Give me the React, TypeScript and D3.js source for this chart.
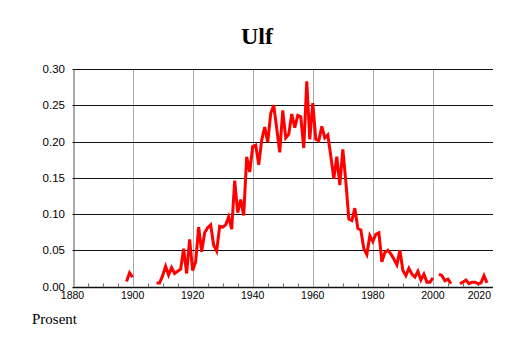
import React, { useEffect, useRef } from 'react';
import * as d3 from 'd3';

// share of population named Ulf, per year (null = no data)
const years = d3.range(1898, 2019);
const values: (number | null)[] = [
    0.007, 0.019, 0.013,                                            // 1898-1900
    null, null, null, null, null, null, null,                       // 1901-1907
    0.005, 0.005, 0.015, 0.028, 0.016, 0.026, 0.018, 0.021, 0.024, 0.052, // 1908-1917
    0.018, 0.065, 0.022, 0.034, 0.082, 0.048, 0.074, 0.081, 0.085, 0.057, // 1918-1927
    0.049, 0.083, 0.082, 0.085, 0.096, 0.079, 0.146, 0.102, 0.120, 0.098, // 1928-1937
    0.179, 0.158, 0.193, 0.195, 0.168, 0.202, 0.220, 0.199, 0.239, 0.250, // 1938-1947
    0.218, 0.185, 0.243, 0.205, 0.210, 0.238, 0.219, 0.236, 0.234, 0.191, // 1948-1957
    0.283, 0.203, 0.253, 0.203, 0.201, 0.221, 0.205, 0.209, 0.180, 0.149, // 1958-1967
    0.179, 0.140, 0.189, 0.145, 0.093, 0.091, 0.108, 0.080, 0.078, 0.052, // 1968-1977
    0.044, 0.070, 0.062, 0.072, 0.074, 0.034, 0.047, 0.050, 0.045, 0.038, // 1978-1987
    0.030, 0.050, 0.022, 0.015, 0.025, 0.017, 0.013, 0.021, 0.009, 0.017, // 1988-1997
    0.006, 0.006, 0.012,                                            // 1998-2000
    null,                                                           // 2001
    0.017, 0.015, 0.008, 0.010, 0.004,                              // 2002-2006
    null, null,                                                     // 2007-2008
    0.004, 0.006, 0.009, 0.004, 0.006, 0.006, 0.004, 0.005, 0.015, 0.005  // 2009-2018
];

const yTicks = [0, 0.05, 0.10, 0.15, 0.20, 0.25, 0.30];
const xTicks = [1880, 1900, 1920, 1940, 1960, 1980, 2000, 2020];
const minorTicks = d3.range(1885, 2020, 5).filter(y => y % 20 !== 0);

const title = 'Ulf';
const unitLabel = 'Prosent';

export default function App() {
    const ref = useRef<SVGSVGElement>(null);

    useEffect(() => {
        const width = 514, height = 343;
        const margin = {left: 72.5, right: 21, top: 69, bottom: 56.5};

        const svg = d3.select(ref.current);
        svg.selectAll('*').remove();

        const x = d3.scaleLinear()
            .domain([1880, 2020])
            .range([margin.left, width - margin.right]);
        const y = d3.scaleLinear()
            .domain([0, 0.30])
            .range([height - margin.bottom, margin.top]);

        svg.append('text')
            .attr('x', width / 2)
            .attr('y', 44)
            .attr('text-anchor', 'middle')
            .style('font-family', '"Liberation Serif", serif')
            .style('font-weight', 'bold')
            .style('font-size', '24px')
            .text(title);

        // vertical grid (grey)
        svg.append('g')
            .selectAll('line')
            .data(xTicks.filter(d => d < 2020))
            .enter()
            .append('line')
            .attr('x1', d => Math.round(x(d)) + 0.5)
            .attr('x2', d => Math.round(x(d)) + 0.5)
            .attr('y1', y(0.30))
            .attr('y2', y(0))
            .style('stroke', '#aaaaaa')
            .style('stroke-width', 1);
        svg.append('line')
            .attr('x1', x(1880) + 2).attr('x2', x(1880) + 2)
            .attr('y1', y(0.30)).attr('y2', y(0))
            .style('stroke', '#aaaaaa');

        // horizontal grid (black)
        svg.append('g')
            .selectAll('line')
            .data(yTicks)
            .enter()
            .append('line')
            .attr('x1', x(1880))
            .attr('x2', x(2020))
            .attr('y1', d => Math.round(y(d)) + 0.5)
            .attr('y2', d => Math.round(y(d)) + 0.5)
            .style('stroke', '#111')
            .style('stroke-width', d => d === 0 ? 1.5 : 1);

        // minor ticks on the x axis
        svg.append('g')
            .selectAll('line')
            .data(minorTicks)
            .enter()
            .append('line')
            .attr('x1', d => Math.round(x(d)) + 0.5)
            .attr('x2', d => Math.round(x(d)) + 0.5)
            .attr('y1', y(0) - 3)
            .attr('y2', y(0))
            .style('stroke', '#666');

        svg.append('g')
            .selectAll('text')
            .data(yTicks)
            .enter()
            .append('text')
            .attr('x', 65)
            .attr('y', d => y(d) + 4)
            .attr('text-anchor', 'end')
            .style('font-family', '"Liberation Sans", Arial, sans-serif')
            .style('font-size', '11.5px')
            .text(d => d3.format('.2f')(d));

        svg.append('g')
            .selectAll('text')
            .data(xTicks)
            .enter()
            .append('text')
            .attr('x', d => d === 2020 ? x(d) - 2 : x(d))
            .attr('y', y(0) + 12)
            .attr('text-anchor', d => d === 2020 ? 'end' : 'middle')
            .style('font-family', '"Liberation Sans", Arial, sans-serif')
            .style('font-size', '10.5px')
            .text(d => d);

        const line = d3.line<number>()
            .defined(i => values[i] !== null)
            .x(i => x(years[i]))
            .y(i => y(values[i] as number));

        svg.append('path')
            .datum(d3.range(years.length))
            .attr('d', line)
            .style('fill', 'none')
            .style('stroke', '#ff0000')
            .style('stroke-width', 3)
            .style('stroke-linejoin', 'miter');

        svg.append('text')
            .attr('x', 32)
            .attr('y', 324)
            .style('font-family', '"Liberation Serif", serif')
            .style('font-size', '15px')
            .text(unitLabel);
    }, []);

    return (
        <svg ref={ref} width={514} height={343}
            style={{position: 'absolute', left: 0, top: 0, background: '#fff'}} />
    );
}
